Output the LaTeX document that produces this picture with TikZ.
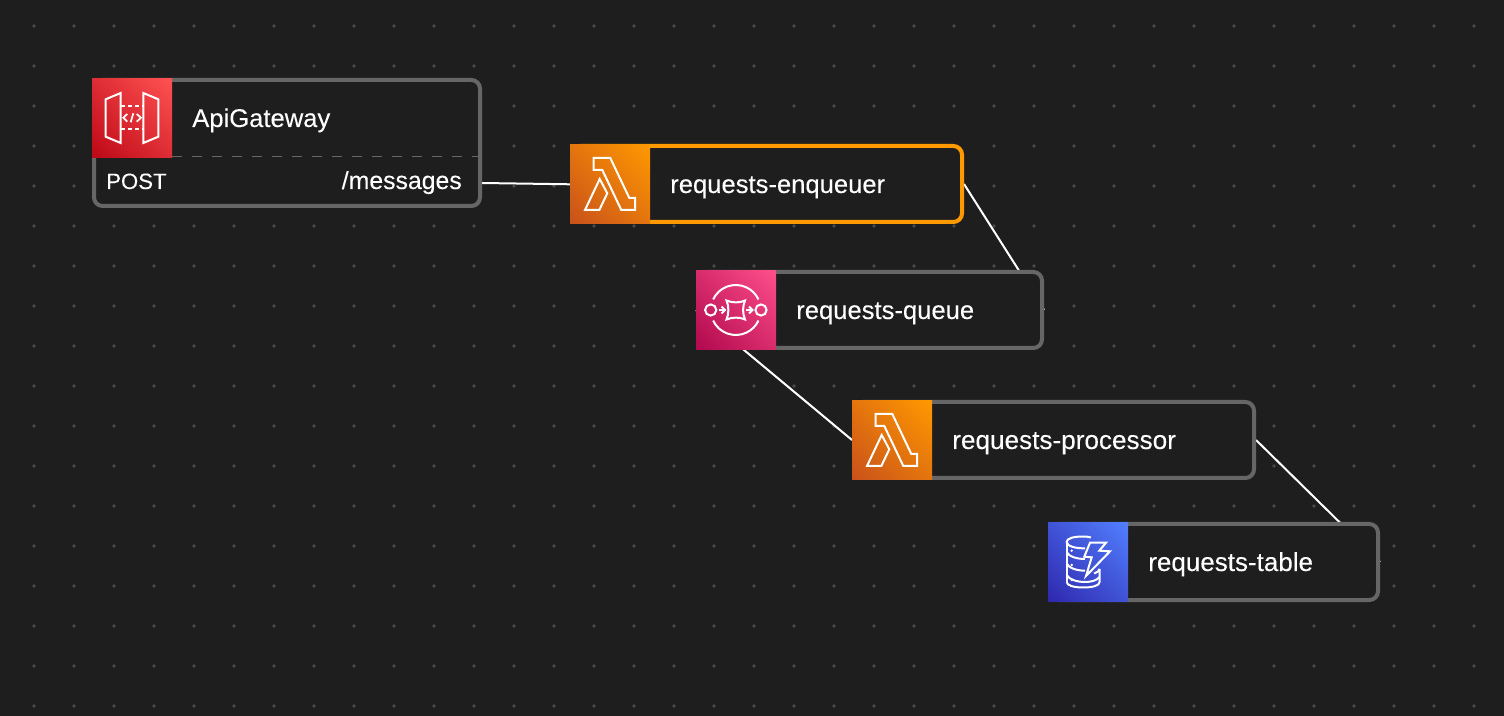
\documentclass[tikz,border=0pt]{standalone}
\usepackage{fontspec}
\usetikzlibrary{shadings}
\setmainfont{Liberation Sans}[FakeBold=0.12]
\definecolor{canvas}{HTML}{1E1E1E}
\definecolor{griddot}{HTML}{4A4A4A}
\definecolor{boxline}{HTML}{666666}
\definecolor{accent}{HTML}{FF9900}
\pgfdeclarelayer{canvaslayer}
\pgfdeclarelayer{edgelayer}
\pgfsetlayers{canvaslayer,edgelayer,main}
\definecolor{red1}{HTML}{BD0816}\definecolor{red2}{HTML}{FF5252}\colorlet{red3}{red1!50!red2}
\definecolor{org1}{HTML}{C8511B}\definecolor{org2}{HTML}{FF9900}\colorlet{org3}{org1!50!org2}
\definecolor{pnk1}{HTML}{B0084D}\definecolor{pnk2}{HTML}{FF4F8B}\colorlet{pnk3}{pnk1!50!pnk2}
\definecolor{blu1}{HTML}{2E27AD}\definecolor{blu2}{HTML}{527FFF}\colorlet{blu3}{blu1!50!blu2}
\tikzset{
  cardbox/.style={draw=boxline,fill=canvas,line width=3pt,rounded corners=6.5pt,inner sep=0pt,minimum height=#1*0.75pt},
  wide/.style={minimum width=#1*0.75pt},
  iconsq/.style={inner sep=0pt,outer sep=0pt,minimum width=60pt,minimum height=59.5pt},
  redicon/.style={iconsq,lower left=red1,upper right=red2,upper left=red3,lower right=red3},
  orangeicon/.style={iconsq,lower left=org1,upper right=org2,upper left=org3,lower right=org3},
  pinkicon/.style={iconsq,lower left=pnk1,upper right=pnk2,upper left=pnk3,lower right=pnk3},
  blueicon/.style={iconsq,lower left=blu1,upper right=blu2,upper left=blu3,lower right=blu3},
  cardtext/.style={anchor=base west,inner sep=0pt,text=white,font=\fontsize{19.2}{23}\selectfont},
  porttext/.style={inner sep=0pt,text=white,font=\fontsize{16.6}{21}\selectfont},
  wire/.style={draw=white,line width=1.5pt},
  glyph/.style={draw=white,line width=1.5pt,line join=miter},
}
\newcommand\lambdaglyph{%
  \draw[glyph] (23.7,14)--(40.3,14)--(59.3,54)--(65,54)--(65,66)--(51.3,66)--(32.3,26)--(23.7,26)--cycle;
  \draw[glyph] (29.7,35)--(37.3,49.3)--(29.3,66)--(15,66)--cycle;}
\begin{document}
\begin{tikzpicture}[x=0.75pt,y=-0.75pt]
\useasboundingbox (0,0) rectangle (1504,716);
\begin{pgfonlayer}{canvaslayer}
  \fill[canvas] (0,0) rectangle (1504,716);
  \foreach \gx in {34,74,...,1474}
    \foreach \gy in {26,66,...,706}
      \fill[griddot] (\gx,\gy) circle[radius=1.9];
\end{pgfonlayer}

% cards
\node[cardbox=126,wide=386] (gw) at (287,143) {};
\node[cardbox=76,wide=390,draw=accent] (enq) at (767,184) {};
\node[cardbox=76,wide=344] (queue) at (870,310) {};
\node[cardbox=76,wide=400] (proc) at (1054,440) {};
\node[cardbox=76,wide=328] (table) at (1214,562) {};

% gateway divider
\draw[boxline,line width=0.75pt,dash pattern=on 7.5pt off 7.5pt] (172,156.5) -- (480,156.5);

% icon squares
\node[redicon] (gwicon) at (132,118.3) {};
\node[orangeicon] (enqicon) at (610,184.3) {};
\node[pinkicon] (queueicon) at (736,310.3) {};
\node[orangeicon] (procicon) at (892,440.3) {};
\node[blueicon] (tableicon) at (1088,562.3) {};

% API Gateway glyph
\begin{scope}[shift={(92,78)}]
  \draw[glyph] (13.7,21.3)--(28.7,15)--(28.7,65)--(13.7,58.7)--cycle;
  \draw[glyph] (51.3,15)--(66.3,21.3)--(66.3,58.7)--(51.3,65)--cycle;
  \draw[white,line width=1.5pt,dash pattern=on 3pt off 2.2pt] (29,27.7)--(51,27.7);
  \draw[white,line width=1.5pt,dash pattern=on 3pt off 2.2pt] (29,51.3)--(51,51.3);
  \draw[white,line width=1.3pt] (35.3,36)--(31.3,39.7)--(35.3,43.7);
  \draw[white,line width=1.3pt] (41.3,35.3)--(38.7,44.3);
  \draw[white,line width=1.3pt] (44.7,36)--(49,39.7)--(44.7,43.7);
\end{scope}

% Lambda glyphs
\begin{scope}[shift={(570,144)}]\lambdaglyph\end{scope}
\begin{scope}[shift={(852,400)}]\lambdaglyph\end{scope}

% SQS glyph
\begin{scope}[shift={(696,270)}]
  \draw[glyph] (14.7,40) circle[radius=5.6];
  \draw[glyph] (65,40) circle[radius=5.6];
  \draw[glyph] (39.8,40) ++(155:25) arc[start angle=155,end angle=25,radius=25];
  \draw[glyph] (39.8,40) ++(205:25) arc[start angle=205,end angle=335,radius=25];
  \draw[glyph] (30.5,30.5) .. controls (36,33) and (44,33) .. (49,30.5)
    .. controls (46.5,36) and (46.5,44) .. (49,49.5)
    .. controls (44,47) and (36,47) .. (30.5,49.5)
    .. controls (33,44) and (33,36) .. (30.5,30.5) -- cycle;
  \draw[glyph] (22.5,40)--(29,40);
  \draw[glyph] (25.5,36.5)--(29,40)--(25.5,43.5);
  \draw[glyph] (49.5,40)--(56.5,40);
  \draw[glyph] (53,36.5)--(56.5,40)--(53,43.5);
\end{scope}

% DynamoDB glyph
\begin{scope}[shift={(1048,522)}]
  \draw[glyph] (43,15.5) .. controls (40,14.5) and (37,14.5) .. (35.3,14.5)
     .. controls (25,14.5) and (18.7,16.5) .. (18.7,20) .. controls (18.7,24) and (27,26.5) .. (37,26.3);
  \draw[glyph] (18.7,20) -- (18.7,60);
  \draw[glyph] (18.7,30) .. controls (20.5,34.5) and (29,37) .. (37,37);
  \draw[glyph] (18.7,41.5) .. controls (20.5,46) and (29,48.7) .. (37,48.7);
  \draw[glyph] (18.7,60) .. controls (18.7,63.5) and (26,65.5) .. (35.3,65.5)
     .. controls (45,65.5) and (51.5,63.5) .. (51.5,60) -- (51.5,47);
  \draw[glyph] (46,51.5) .. controls (49,50.5) and (51.5,49) .. (51.5,47);
  \draw[glyph] (18.7,53) .. controls (21,57.5) and (29,60) .. (37,60) .. controls (43,60) and (49,58.5) .. (51.5,55);
  \fill[white] (23.7,28.7) circle[radius=1.3] (23.7,43) circle[radius=1.3] (23.7,58) circle[radius=1.3];
  \draw[glyph] (42,20.7)--(58,20.7)--(51.3,28.7)--(62,29.3)--(38,54)--(43.7,35.3)--(36.3,34.7)--cycle;
\end{scope}

% labels
\node[cardtext] (gwname) at (192,127) {ApiGateway};
\node[cardtext] (enqname) at (670,193) {requests-enqueuer};
\node[cardtext] (queuename) at (796,319) {requests-queue};
\node[cardtext,font=\fontsize{19.6}{23}\selectfont] (procname) at (952,449) {requests-processor};
\node[cardtext,font=\fontsize{19.5}{23}\selectfont] (tablename) at (1148,571) {requests-table};
\node[porttext,anchor=base west] (gwmethod) at (106,189) {POST};
\node[cardtext,anchor=base east,font=\fontsize{18.6}{23}\selectfont] (gwpath) at (462,189) {/messages};

% connectors
\coordinate (gwport) at (482,183);
\begin{pgfonlayer}{edgelayer}
  \draw[wire] (gwport) -- (enqicon.west);
  \draw[wire] (enq.east) -- (queue.east);
  \draw[wire] (queue.west) -- (proc.west);
  \draw[wire] (proc.east) -- (table.east);
\end{pgfonlayer}
\end{tikzpicture}
\end{document}
